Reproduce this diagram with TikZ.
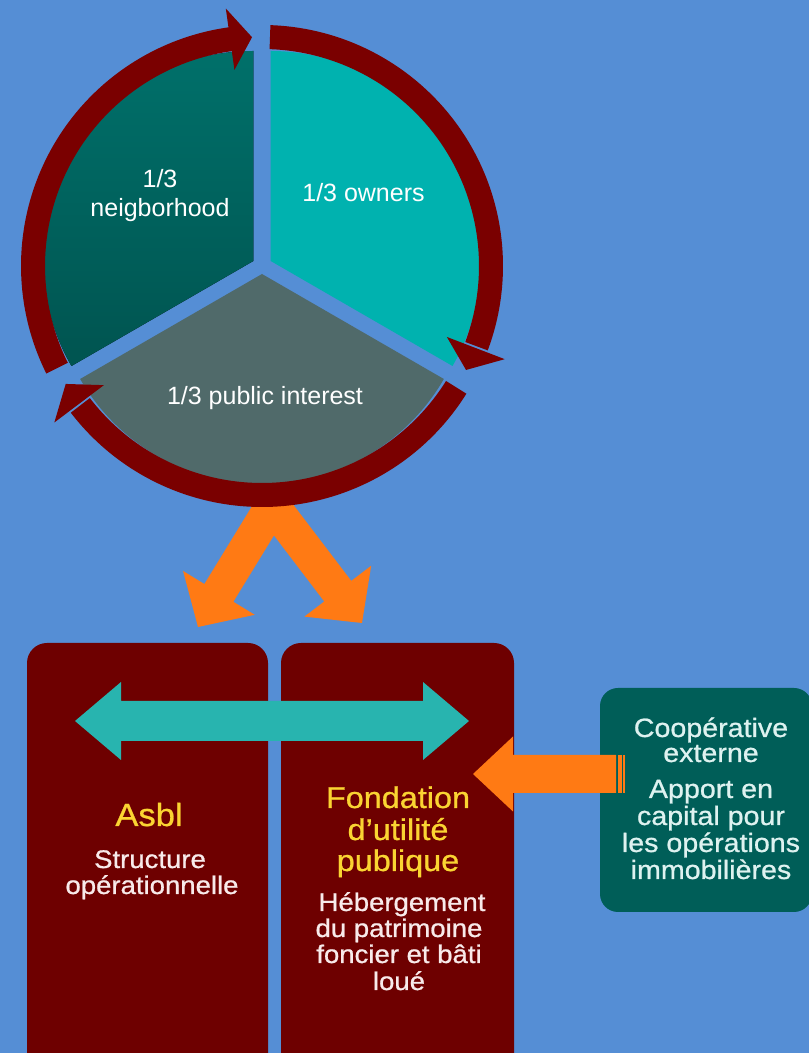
\documentclass[tikz,border=0pt]{standalone}
\usepackage{fontspec}
\setmainfont{Liberation Sans}
\newfontfamily\widefont[FakeStretch=1.08,FakeBold=0.8]{Liberation Sans}
\usetikzlibrary{calc}
\definecolor{bgblue}{RGB}{85,142,213}
\definecolor{ringc}{RGB}{122,0,0}
\definecolor{nbtop}{RGB}{0,112,106}
\definecolor{nbbot}{RGB}{0,84,80}
\definecolor{ownc}{RGB}{0,178,175}
\definecolor{pubc}{RGB}{80,106,106}
\definecolor{orangec}{RGB}{255,122,20}
\definecolor{cyanc}{RGB}{40,180,175}
\definecolor{boxc}{RGB}{110,0,0}
\definecolor{coopc}{RGB}{0,94,88}
\definecolor{titlec}{RGB}{250,212,50}
\definecolor{bodyc}{RGB}{248,234,234}
\definecolor{cooptxt}{RGB}{222,242,240}
\newcommand{\blockarrow}[7]{%
  \coordinate (#7h) at ($(#3)!#6!(#2)$);
  \fill[#1] ($(#2)!#4!90:(#3)$) -- ($(#7h)!#4!90:(#3)$) -- ($(#7h)!#5!90:(#3)$) -- (#3)
    -- ($(#7h)!#5!-90:(#3)$) -- ($(#7h)!#4!-90:(#3)$) -- ($(#2)!#4!-90:(#3)$) -- cycle;}
\newcommand{\ringarrow}[4]{%
  \fill[ringc] ($(C)+(#1:241)$) arc[start angle=#1,end angle=#2,radius=241]
    -- ($(C)+(#2:217)$) arc[start angle=#2,end angle=#1,radius=217] -- cycle;
  \fill[ringc] ($(C)+(#4:198)$) -- ($(C)+(#3:229)$) -- ($(C)+(#4:260)$) -- cycle;}
\tikzset{
  pietxt/.style={text=white,font=\fontsize{25}{30}\selectfont,anchor=base,inner sep=0pt},
  titletxt/.style={text=titlec,font=\widefont\fontsize{30}{34}\selectfont,anchor=base,inner sep=0pt},
  bodytxt/.style={text=bodyc,font=\widefont\fontsize{25.5}{30}\selectfont,anchor=base,inner sep=0pt},
  cooptext/.style={text=cooptxt,font=\widefont\fontsize{26.5}{30}\selectfont,anchor=base,inner sep=0pt},
  bigbox/.style={fill=boxc,rounded corners=20pt},
}
\begin{document}
\begin{tikzpicture}[x=1pt,y=1pt]
\fill[bgblue] (0,0) rectangle (809,1053);
\useasboundingbox (0,0) rectangle (809,1053);
% orange V arrows
\coordinate (a1t) at (280,560);
\coordinate (a1p) at (198,426);
\coordinate (a2t) at (263,560);
\coordinate (a2p) at (362,430);
\blockarrow{orangec}{a1t}{a1p}{17pt}{42pt}{40pt}{a1}
\blockarrow{orangec}{a2t}{a2p}{17pt}{42pt}{40pt}{a2}
% pie
\coordinate (C) at (262,787);
\fill[top color=nbtop,bottom color=nbbot] ($(C)+(150:10)$) -- ++(90:210)
  arc[start angle=90,end angle=210,radius=210] -- cycle;
\fill[ownc] ($(C)+(30:10)$) -- ++(-30:210)
  arc[start angle=-30,end angle=90,radius=210] -- cycle;
\fill[pubc] ($(C)+(270:8)$) -- ++(210:210)
  arc[start angle=210,end angle=330,radius=210] -- cycle;
% ring arrows
\ringarrow{206.5}{97.5}{92.5}{98}
\ringarrow{88}{-20.5}{-27}{-21}
\ringarrow{-32}{-142.5}{-149}{-143}
% pie texts
\node[pietxt] (n1) at (160,865) {1/3};
\node[pietxt] (n2) at (160,836) {neigborhood};
\node[pietxt] (o1) at (363.5,851) {1/3 owners};
\node[pietxt] (p1) at (265,648) {1/3 public interest};
% boxes
\fill[bigbox] (27,-30) rectangle (268,410);
\fill[bigbox] (281,-30) rectangle (514,410);
\fill[coopc,rounded corners=18pt] (600,141) rectangle (812,365);
% cyan double arrow
\fill[cyanc] (75,332) -- (121,371) -- (121,352) -- (423,352) -- (423,371) -- (469,332)
  -- (423,293) -- (423,312) -- (121,312) -- (121,293) -- cycle;
% orange arrow from cooperative
\fill[orangec] (473,279) -- (513,316.5) -- (513,298) -- (616,298) -- (616,260) -- (513,260) -- (513,241.5) -- cycle;
\fill[orangec] (618,298) rectangle (621.5,260);
\fill[orangec] (623,298) rectangle (625,260);
% Asbl texts
\node[titletxt,font=\widefont\fontsize{32}{36}\selectfont] (t1) at (149,227) {Asbl};
\node[bodytxt] (b1) at (150,185) {Structure};
\node[bodytxt] (b2) at (152,159) {opérationnelle};
% Fondation texts
\node[titletxt] (t2) at (398,245) {Fondation};
\node[titletxt] (t3) at (398,213) {d’utilité};
\node[titletxt] (t4) at (398,182) {publique};
\node[bodytxt] (b3) at (402,142) {Hébergement};
\node[bodytxt] (b4) at (399,116) {du patrimoine};
\node[bodytxt] (b5) at (399,90) {foncier et bâti};
\node[bodytxt] (b6) at (399,63) {loué};
% Cooperative texts
\node[cooptext] (c1) at (711,316) {Coopérative};
\node[cooptext] (c2) at (711,291) {externe};
\node[cooptext] (c3) at (711,255) {Apport en};
\node[cooptext] (c4) at (711,228) {capital pour};
\node[cooptext] (c5) at (711,201) {les opérations};
\node[cooptext] (c6) at (711,174) {immobilières};
\end{tikzpicture}
\end{document}
